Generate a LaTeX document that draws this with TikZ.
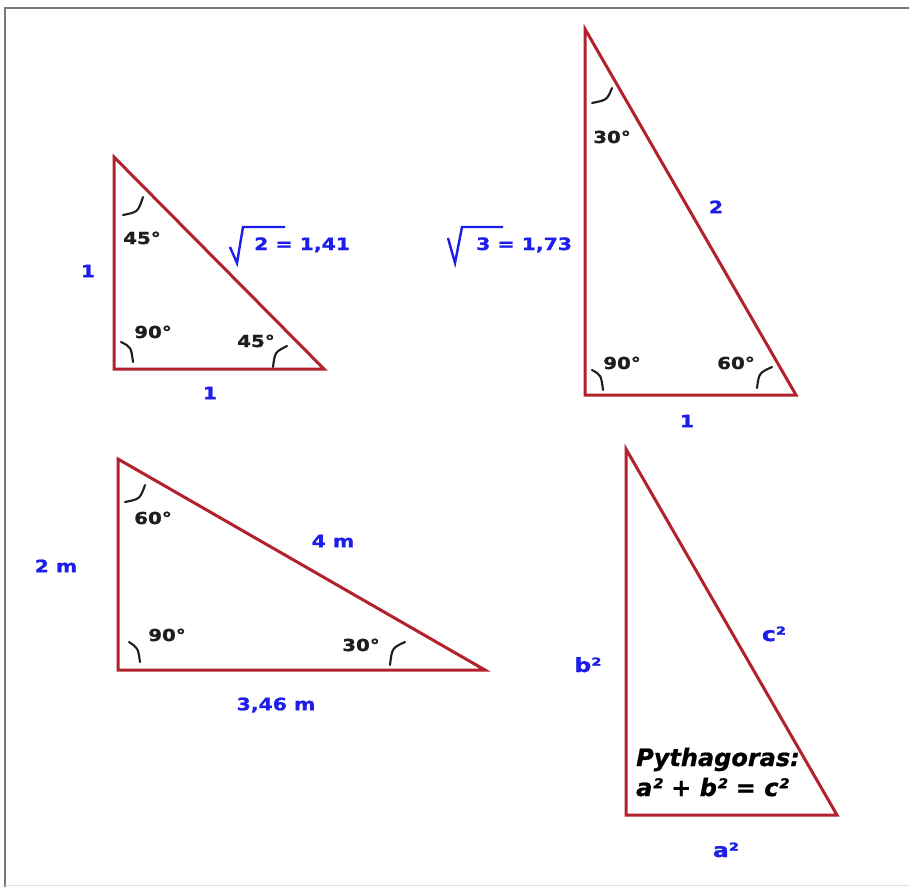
\documentclass[tikz,border=0pt]{standalone}
\usepackage{fontspec}
\setmainfont{DejaVu Sans}
\newfontfamily\lblfont[FakeStretch=1.2,FakeBold=1.2]{DejaVu Sans Bold}
\newfontfamily\pythfont[FakeBold=0.8]{DejaVu Sans Bold Oblique}
\definecolor{trired}{RGB}{178,34,45}
\definecolor{lblue}{RGB}{30,30,235}
\definecolor{dark}{RGB}{30,30,30}
\definecolor{framegray}{RGB}{120,120,120}
\tikzset{
  tri/.style={draw=trired, line width=3pt, line join=miter},
  angarc/.style={draw=dark, line width=2.1pt, line cap=round},
  bluelbl/.style={text=lblue, inner sep=0pt, font=\lblfont\fontsize{17}{20}\selectfont, text height=12.4pt, text depth=0pt, anchor=center},
  sqlbl/.style={text=lblue, inner sep=0pt, font=\lblfont\fontsize{19.5}{22}\selectfont, text height=14pt, text depth=0pt, anchor=center},
  anglbl/.style={text=dark, inner sep=0pt, font=\lblfont\fontsize{16.5}{19}\selectfont, text height=12pt, text depth=0pt, anchor=center},
  rootlbl/.style={text=lblue, inner sep=0pt, font=\lblfont\fontsize{17}{20}\selectfont, anchor=base west},
  radical/.style={draw=lblue, line width=2.4pt, line join=miter},
  pyth/.style={text=black, inner sep=0pt, font=\pythfont\fontsize{24}{28}\selectfont, anchor=base west}
}
\begin{document}
\begin{tikzpicture}[x=1pt,y=-1pt]
\useasboundingbox (0,0) rectangle (909,887);
\fill[white] (0,0) rectangle (909,887);
% frame
\draw[framegray, line width=2.5pt] (5,887) -- (5,8) -- (909,8);
\draw[gray!25, line width=1.2pt] (5,885.5) -- (909,885.5);

% ---------- Triangle 1 ----------
\coordinate (A1) at (114,157);
\coordinate (B1) at (114,369);
\coordinate (C1) at (324,369);
\draw[tri] (A1) -- (B1) -- (C1) -- cycle;
\draw[angarc] (123,215) .. controls (138,212) .. (143,197);
\draw[angarc] (121,342) .. controls (131,347) .. (133,362);
\draw[angarc] (273,367) .. controls (275,352) .. (287,346);
\node[anglbl] (t1a) at (142,238) {45°};
\node[anglbl] (t1b) at (153,332) {90°};
\node[anglbl] (t1c) at (256,341) {45°};
\node[bluelbl] (t1l) at (88,271) {1};
\node[bluelbl] (t1d) at (210,393) {1};
\draw[radical] (230,247) -- (237,263) -- (243,227) -- (285,227);
\node[rootlbl] (t1h) at (254,250) {2 = 1,41};

% ---------- Triangle 2 ----------
\coordinate (A2) at (585,29);
\coordinate (B2) at (585,395);
\coordinate (C2) at (796,395);
\draw[tri] (A2) -- (B2) -- (C2) -- cycle;
\draw[angarc] (592,103) .. controls (607,100) .. (612,88);
\draw[angarc] (592,370) .. controls (601,375) .. (603,390);
\draw[angarc] (757,388) .. controls (759,373) .. (772,367);
\node[anglbl] (t2a) at (612,137) {30°};
\node[anglbl] (t2b) at (622,363) {90°};
\node[anglbl] (t2c) at (736,363) {60°};
\node[bluelbl] (t2h) at (716,207) {2};
\node[bluelbl] (t2d) at (687,421) {1};
\draw[radical] (448,238) -- (455,263) -- (462,227) -- (503,227);
\node[rootlbl] (t2l) at (476,250) {3 = 1,73};

% ---------- Triangle 3 ----------
\coordinate (A3) at (118,459);
\coordinate (B3) at (118,670);
\coordinate (C3) at (485,670);
\draw[tri] (A3) -- (B3) -- (C3) -- cycle;
\draw[angarc] (125,502) .. controls (140,499) .. (145,485);
\draw[angarc] (129,642) .. controls (138,648) .. (140,662);
\draw[angarc] (390,665) .. controls (392,648) .. (405,642);
\node[anglbl] (t3a) at (153,518) {60°};
\node[anglbl] (t3b) at (167,635) {90°};
\node[anglbl] (t3c) at (361,645) {30°};
\node[bluelbl] (t3h) at (333,541) {4 m};
\node[bluelbl] (t3l) at (56,566) {2 m};
\node[bluelbl] (t3d) at (276,704) {3,46 m};

% ---------- Triangle 4 ----------
\coordinate (A4) at (626,449);
\coordinate (B4) at (626,815);
\coordinate (C4) at (837,815);
\draw[tri] (A4) -- (B4) -- (C4) -- cycle;
\node[sqlbl] (t4l) at (588,665) {b²};
\node[sqlbl] (t4h) at (774,634) {c²};
\node[sqlbl] (t4d) at (726,850) {a²};
\node[pyth] (p1) at (636,766) {Pythagoras:};
\node[pyth] (p2) at (636,796) {a² + b² = c²};
\end{tikzpicture}
\end{document}
